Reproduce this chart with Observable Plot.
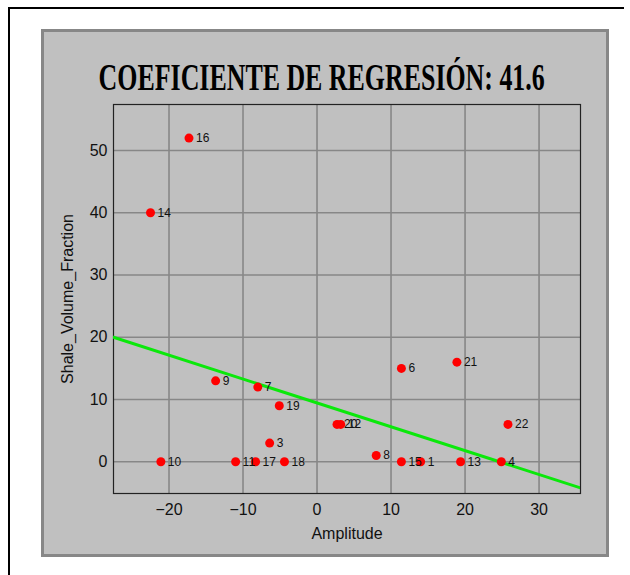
<!DOCTYPE html>
<html>
<head>
<meta charset="utf-8">
<script src="https://cdn.jsdelivr.net/npm/d3@7"></script>
<script src="https://cdn.jsdelivr.net/npm/@observablehq/plot@0.6"></script>
<style>
  html, body { margin: 0; padding: 0; background: #fff; }
  #wrap { position: relative; width: 630px; height: 575px; overflow: hidden; }
  #outer { position: absolute; left: 8px; top: 7px; width: 614px; height: 600px;
           border-left: 2px solid #000; border-top: 2px solid #000; }
  #panel { position: absolute; left: 41px; top: 29px; width: 568px; height: 528px;
           box-sizing: border-box; background: #c0c0c0; border: 3px solid #878787; }
  #title { position: absolute; left: 0; top: 59px; width: 644px; text-align: center;
           font-family: "Liberation Serif", serif; font-weight: bold; font-size: 37px;
           line-height: 1; color: #000; white-space: nowrap; }
  #title span { display: inline-block; transform: scaleX(0.7); }
  #chart { position: absolute; left: 0; top: 0; }
</style>
</head>
<body>
<div id="wrap">
  <div id="outer"></div>
  <div id="panel"></div>
  <div id="title"><span>COEFICIENTE DE REGRESIÓN: 41.6</span></div>
  <div id="chart"></div>
</div>
<script>
// Point data
const pointLabels = ["16", "14", "9", "7", "19", "3", "10", "11", "17", "18", "20", "12", "8", "6", "15", "1", "21", "13", "22", "4"];
const amplitude   = [-17.3, -22.5, -13.7, -8.0, -5.1, -6.4, -21.1, -11.0, -8.3, -4.4, 2.7, 3.2, 8.0, 11.4, 11.4, 14.0, 18.9, 19.4, 25.8, 24.9];
const shaleVolume = [52, 40, 13, 12, 9, 3, 0, 0, 0, 0, 6, 6, 1, 15, 0, 0, 16, 0, 6, 0];

// Regression line read at the plot edges
const fitX = [-27.5, 35.6];
const fitY = [20, -4.2];

// Axes
const xTicks = [-20, -10, 0, 10, 20, 30];
const yTicks = [0, 10, 20, 30, 40, 50];
const xDomain = [-27.5, 35.6];
const yDomain = [-5.1, 57.4];

const points = pointLabels.map((l, i) => ({label: l, x: amplitude[i], y: shaleVolume[i]}));
const fit = fitX.map((x, i) => ({x, y: fitY[i]}));

const chart = Plot.plot({
  width: 630,
  height: 575,
  marginLeft: 113,
  marginRight: 50,
  marginTop: 104,
  marginBottom: 82,
  style: {background: "transparent", fontFamily: "Liberation Sans, Arial, sans-serif", color: "#111"},
  x: {domain: xDomain},
  y: {domain: yDomain},
  marks: [
    Plot.gridX(xTicks, {stroke: "#878787", strokeOpacity: 1, strokeWidth: 1.6}),
    Plot.gridY(yTicks, {stroke: "#878787", strokeOpacity: 1, strokeWidth: 1.6}),
    Plot.frame({stroke: "#222", strokeWidth: 1.2}),
    Plot.axisX(xTicks, {tickSize: 0, tickPadding: 10, fontSize: 16, label: "Amplitude", labelAnchor: "center", labelArrow: "none", labelOffset: 45}),
    Plot.axisY(yTicks, {tickSize: 0, tickPadding: 6, fontSize: 16, label: "Shale_Volume_Fraction", labelAnchor: "center", labelArrow: "none", labelOffset: 52}),
    Plot.line(fit, {x: "x", y: "y", stroke: "#0be80b", strokeWidth: 3, clip: true}),
    Plot.dot(points, {x: "x", y: "y", r: 4.5, fill: "#ff0000", stroke: "none"}),
    Plot.text(points, {x: "x", y: "y", text: "label", dx: 7, textAnchor: "start", fontSize: 12, fill: "#111"})
  ]
});
document.getElementById("chart").appendChild(chart);
</script>
</body>
</html>
